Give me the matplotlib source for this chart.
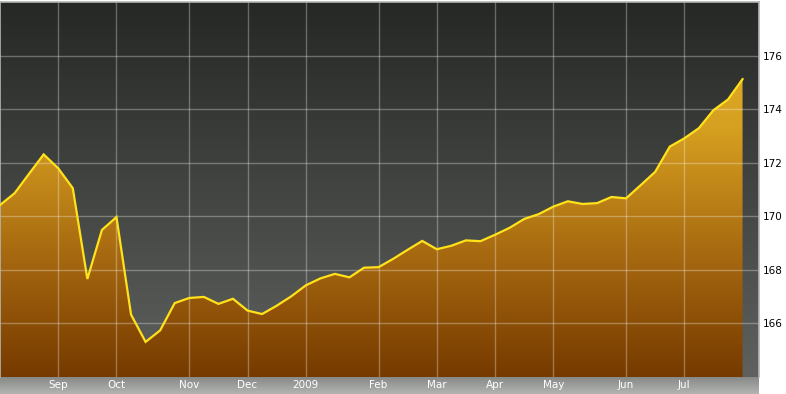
import numpy as np
import pandas as pd
import matplotlib
matplotlib.use("Agg")
import matplotlib.pyplot as plt
from matplotlib.colors import LinearSegmentedColormap
from matplotlib.patches import Polygon

# weekly closes, Fridays from 2008-08-08 to 2009-07-31
start_date = "2008-08-08"
values = [170.42, 170.86, 171.59, 172.31, 171.79, 171.05, 167.66, 169.49,
          169.97, 166.33, 165.31, 165.74, 166.76, 166.95, 166.99, 166.73,
          166.92, 166.48, 166.35, 166.66, 167.01, 167.42, 167.68, 167.85,
          167.72, 168.08, 168.10, 168.41, 168.75, 169.08, 168.77, 168.90,
          169.10, 169.07, 169.31, 169.57, 169.90, 170.08, 170.36, 170.56,
          170.46, 170.49, 170.72, 170.67, 171.16, 171.66, 172.60, 172.91,
          173.29, 173.96, 174.36, 175.12]
y_ticks = [166, 168, 170, 172, 174, 176]

dates = pd.date_range(start_date, periods=len(values), freq="7D")
x = np.arange(len(values))

# first week of each month gets a tick
tick_pos = []
tick_lab = []
for i in range(1, len(dates)):
    if dates[i].month != dates[i - 1].month:
        tick_pos.append(i)
        tick_lab.append(str(dates[i].year) if dates[i].month == 1 else dates[i].strftime("%b"))

W, H = 786, 394
fig = plt.figure(figsize=(W / 100, H / 100), dpi=100)
fig.patch.set_facecolor("white")

ymin, ymax = 164, 178
xmax = 52.13

# gray band under the plot
band = fig.add_axes([0, 0, 759 / W, 17 / H])
band_cmap = LinearSegmentedColormap.from_list("band", ["#b2b4b2", "#888a88"])
band.imshow(np.linspace(0, 1, 64).reshape(-1, 1), aspect="auto", cmap=band_cmap,
            extent=[0, 1, 0, 1], origin="lower")
band.set_axis_off()

ax = fig.add_axes([0, 17 / H, 759 / W, 375 / H])
ax.set_xlim(0, xmax)
ax.set_ylim(ymin, ymax)

bg_cmap = LinearSegmentedColormap.from_list("bg", ["#5f615e", "#262826"])
ax.imshow(np.linspace(0, 1, 256).reshape(-1, 1), aspect="auto", cmap=bg_cmap,
          extent=[0, xmax, ymin, ymax], origin="lower", zorder=0)

fill_cmap = LinearSegmentedColormap.from_list("fill", ["#763a00", "#a86a10", "#d6a020", "#e4b42a"])
img = ax.imshow(np.linspace(0, 1, 256).reshape(-1, 1), aspect="auto", cmap=fill_cmap,
                extent=[0, xmax, ymin, ymax], origin="lower", zorder=1)
verts = list(zip(x, values)) + [(x[-1], ymin), (x[0], ymin)]
poly = Polygon(verts, closed=True, facecolor="none", edgecolor="none")
ax.add_patch(poly)
img.set_clip_path(poly)

for t in tick_pos:
    ax.axvline(t, color="white", alpha=0.3, lw=1, zorder=2)
for t in y_ticks:
    ax.axhline(t, color="white", alpha=0.3, lw=1, zorder=2)

ax.plot(x, values, color="#ffe21a", lw=1.6, zorder=3, solid_joinstyle="miter")

ax.set_xticks(tick_pos)
ax.set_xticklabels(tick_lab)
ax.set_yticks(y_ticks)
ax.yaxis.tick_right()
ax.tick_params(axis="x", length=0, pad=2, labelsize=7.5, labelcolor="white")
ax.tick_params(axis="y", length=0, pad=2.5, labelsize=7.5, labelcolor="black")

for side in ["top", "left", "right"]:
    ax.spines[side].set_color("#b4b4b4")
    ax.spines[side].set_linewidth(1.2)
ax.spines["bottom"].set_visible(False)

fig.savefig("out.png", dpi=100)
